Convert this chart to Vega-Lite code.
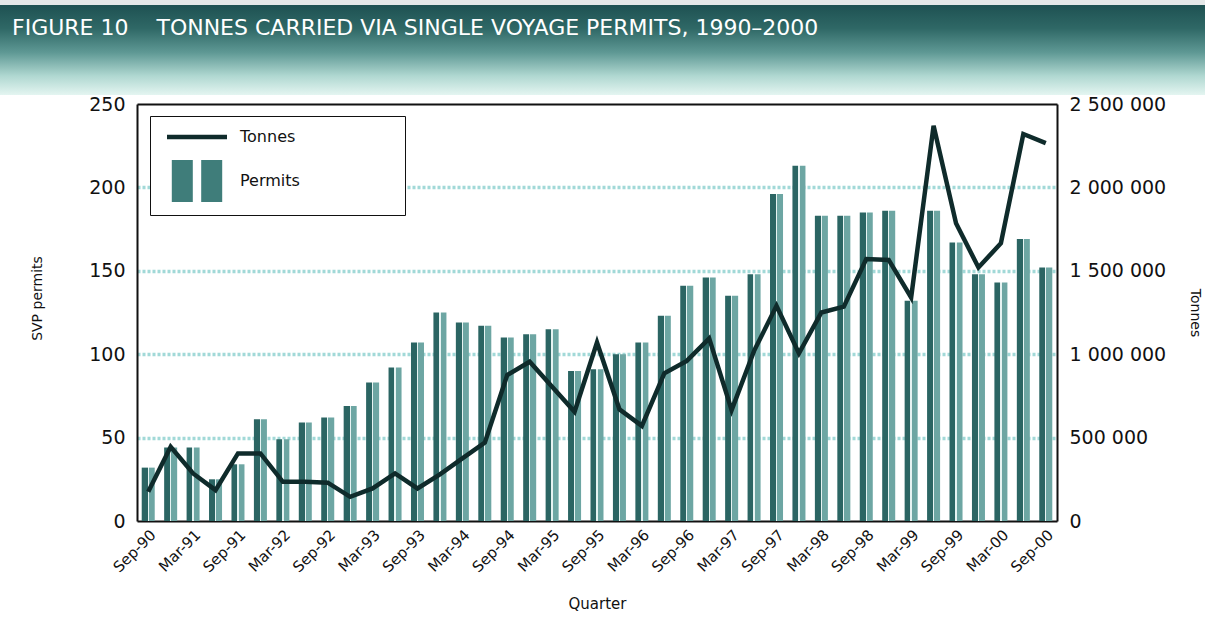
{
  "$schema": "https://vega.github.io/schema/vega-lite/v6.json",
  "padding": 0,
  "spacing": 0,
  "background": "white",
  "resolve": {"legend": {"color": "independent"}},
  "config": {
    "font": "DejaVu Sans",
    "view": {"stroke": null},
    "axis": {"labelFont": "DejaVu Sans", "titleFont": "DejaVu Sans", "labelColor": "#111111", "titleColor": "#111111", "titleFontWeight": "normal"}
  },
  "vconcat": [
    {
      "width": 1205,
      "height": 95,
      "data": {"values": [{"panel": "banner"}]},
      "title": {
        "text": "FIGURE 10\u00a0\u00a0\u00a0 TONNES CARRIED VIA SINGLE VOYAGE PERMITS, 1990–2000",
        "anchor": "start",
        "frame": "group",
        "orient": "top",
        "offset": -40,
        "dx": 12,
        "baseline": "top",
        "color": "white",
        "font": "DejaVu Sans",
        "fontSize": 22,
        "fontWeight": "normal"
      },
      "mark": {
        "type": "rect",
        "fill": {
          "gradient": "linear", "x1": 0, "y1": 0, "x2": 0, "y2": 1,
          "stops": [
            {"offset": 0, "color": "#e4e8e8"},
            {"offset": 0.05, "color": "#e4e8e8"},
            {"offset": 0.052, "color": "#1e5152"},
            {"offset": 0.3, "color": "#2f6866"},
            {"offset": 0.55, "color": "#5e9894"},
            {"offset": 0.8, "color": "#b0d8d1"},
            {"offset": 1, "color": "#e4f5f1"}
          ]
        }
      },
      "encoding": {}
    },
    {
      "width": 1205,
      "height": 417,
      "data": {"values": [
        {"quarter": "Sep-90", "permits": 32, "tonnes": 175000},
        {"quarter": "Dec-90", "permits": 44, "tonnes": 445000},
        {"quarter": "Mar-91", "permits": 44, "tonnes": 285000},
        {"quarter": "Jun-91", "permits": 25, "tonnes": 185000},
        {"quarter": "Sep-91", "permits": 34, "tonnes": 405000},
        {"quarter": "Dec-91", "permits": 61, "tonnes": 405000},
        {"quarter": "Mar-92", "permits": 49, "tonnes": 235000},
        {"quarter": "Jun-92", "permits": 59, "tonnes": 235000},
        {"quarter": "Sep-92", "permits": 62, "tonnes": 230000},
        {"quarter": "Dec-92", "permits": 69, "tonnes": 145000},
        {"quarter": "Mar-93", "permits": 83, "tonnes": 195000},
        {"quarter": "Jun-93", "permits": 92, "tonnes": 285000},
        {"quarter": "Sep-93", "permits": 107, "tonnes": 195000},
        {"quarter": "Dec-93", "permits": 125, "tonnes": 280000},
        {"quarter": "Mar-94", "permits": 119, "tonnes": 375000},
        {"quarter": "Jun-94", "permits": 117, "tonnes": 470000},
        {"quarter": "Sep-94", "permits": 110, "tonnes": 875000},
        {"quarter": "Dec-94", "permits": 112, "tonnes": 955000},
        {"quarter": "Mar-95", "permits": 115, "tonnes": 805000},
        {"quarter": "Jun-95", "permits": 90, "tonnes": 655000},
        {"quarter": "Sep-95", "permits": 91, "tonnes": 1070000},
        {"quarter": "Dec-95", "permits": 100, "tonnes": 670000},
        {"quarter": "Mar-96", "permits": 107, "tonnes": 570000},
        {"quarter": "Jun-96", "permits": 123, "tonnes": 885000},
        {"quarter": "Sep-96", "permits": 141, "tonnes": 960000},
        {"quarter": "Dec-96", "permits": 146, "tonnes": 1095000},
        {"quarter": "Mar-97", "permits": 135, "tonnes": 665000},
        {"quarter": "Jun-97", "permits": 148, "tonnes": 1020000},
        {"quarter": "Sep-97", "permits": 196, "tonnes": 1290000},
        {"quarter": "Dec-97", "permits": 213, "tonnes": 1005000},
        {"quarter": "Mar-98", "permits": 183, "tonnes": 1250000},
        {"quarter": "Jun-98", "permits": 183, "tonnes": 1285000},
        {"quarter": "Sep-98", "permits": 185, "tonnes": 1570000},
        {"quarter": "Dec-98", "permits": 186, "tonnes": 1565000},
        {"quarter": "Mar-99", "permits": 132, "tonnes": 1340000},
        {"quarter": "Jun-99", "permits": 186, "tonnes": 2370000},
        {"quarter": "Sep-99", "permits": 167, "tonnes": 1785000},
        {"quarter": "Dec-99", "permits": 148, "tonnes": 1520000},
        {"quarter": "Mar-00", "permits": 143, "tonnes": 1665000},
        {"quarter": "Jun-00", "permits": 169, "tonnes": 2320000},
        {"quarter": "Sep-00", "permits": 152, "tonnes": 2265000}
      ]},
      "encoding": {
        "x": {
          "field": "quarter", "type": "ordinal", "sort": null,
          "scale": {"range": [137, 1057], "paddingInner": 0.42, "paddingOuter": 0.21},
          "axis": {
            "title": "Quarter", "titleFontSize": 15, "titlePadding": 22,
            "labelAngle": -45, "labelFontSize": 15, "labelPadding": 6,
            "labelAlign": "right", "labelBaseline": "top",
            "labelOverlap": false,
            "labelExpr": "(slice(datum.value, 0, 3) === 'Jun' || slice(datum.value, 0, 3) === 'Dec') ? '' : datum.value",
            "ticks": false, "tickSize": 0, "domain": false, "grid": false
          }
        }
      },
      "layer": [
        {
          "mark": {
            "type": "bar",
            "stroke": null,
            "fill": {
              "gradient": "linear", "x1": 0, "y1": 0, "x2": 1, "y2": 0,
              "stops": [
                {"offset": 0, "color": "#2b6563"},
                {"offset": 0.45, "color": "#2b6563"},
                {"offset": 0.45, "color": "#e6f3f2"},
                {"offset": 0.55, "color": "#e6f3f2"},
                {"offset": 0.55, "color": "#6da6a3"},
                {"offset": 1, "color": "#6da6a3"}
              ]
            }
          },
          "encoding": {
            "y": {
              "field": "permits", "type": "quantitative",
              "scale": {"domain": [0, 250], "nice": false},
              "axis": {
                "orient": "left",
                "offset": -137,
                "values": [0, 50, 100, 150, 200, 250],
                "title": "SVP permits",
                "titleFontSize": 14,
                "titleAngle": 270, "titleBaseline": "bottom", "titleAlign": "center",
                "titleX": -93, "titleY": 194,
                "labelFontSize": 19, "labelPadding": 12,
                "ticks": false, "tickSize": 0,
                "domain": true, "domainColor": "#111111", "domainWidth": 2,
                "grid": true,
                "gridColor": {"condition": {"test": "datum.value === 0 || datum.value === 250", "value": "#111111"}, "value": "#a2d9d8"},
                "gridDash": {"condition": {"test": "datum.value === 0 || datum.value === 250", "value": []}, "value": [3, 2]},
                "gridWidth": {"condition": {"test": "datum.value === 0 || datum.value === 250", "value": 2}, "value": 3.5}
              }
            }
          }
        },
        {
          "mark": {"type": "line", "strokeWidth": 4.5, "strokeJoin": "miter"},
          "encoding": {
            "y": {
              "field": "tonnes", "type": "quantitative",
              "scale": {"domain": [0, 2500000], "nice": false},
              "axis": {
                "orient": "right",
                "offset": -148,
                "values": [0, 500000, 1000000, 1500000, 2000000, 2500000],
                "labelExpr": "replace(replace(format(datum.value, ','), ',', ' '), ',', ' ')",
                "title": "Tonnes", "titleFontSize": 14, "titlePadding": 22,
                "labelFontSize": 19, "labelPadding": 12,
                "ticks": false, "tickSize": 0,
                "domain": true, "domainColor": "#111111", "domainWidth": 2,
                "grid": false
              }
            },
            "color": {
              "datum": "Tonnes",
              "scale": {"domain": ["Tonnes", "Permits"], "range": ["#0f2b2b", "#3d7a78"]},
              "legend": {
                "title": null,
                "orient": "none",
                "legendX": 150,
                "legendY": 12,
                "padding": 13,
                "strokeColor": "#111111",
                "fillColor": "white",
                "labelFontSize": 16,
                "labelColor": "#111111",
                "labelOffset": 61,
                "labelLimit": 400,
                "rowPadding": 14,
                "labelExpr": "datum.label + '\u00a0\u00a0\u00a0\u00a0\u00a0\u00a0\u00a0\u00a0\u00a0\u00a0\u00a0\u00a0\u00a0\u00a0\u00a0\u00a0\u00a0\u00a0\u200b'",
                "encode": {
                  "symbols": {
                    "update": {
                      "x": {"value": 34},
                      "shape": {"signal": "datum.value === 'Tonnes' ? 'stroke' : 'M-1.2,-1H-0.2V1H-1.2Z M0.2,-1H1.2V1H0.2Z'"},
                      "size": {"signal": "datum.value === 'Tonnes' ? 3600 : 1764"},
                      "strokeWidth": {"signal": "datum.value === 'Tonnes' ? 4.5 : 0"},
                      "stroke": {"signal": "datum.value === 'Tonnes' ? '#0f2b2b' : 'transparent'"},
                      "fill": {"signal": "datum.value === 'Tonnes' ? 'transparent' : '#3f7d7a'"},
                      "opacity": {"value": 1}
                    }
                  }
                }
              }
            }
          }
        }
      ],
      "resolve": {"scale": {"y": "independent"}}
    }
  ]
}
